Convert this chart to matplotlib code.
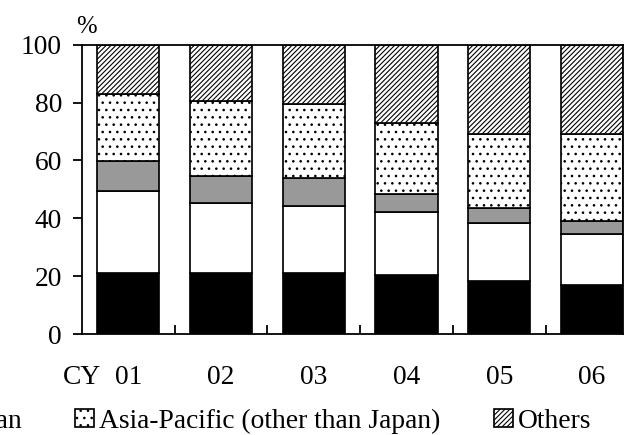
"""
plot.py
stacked share-by-region bars, CY01-06.
"""

import matplotlib
matplotlib.use("Agg")
import matplotlib.pyplot as plt
import matplotlib.patches as mpatches

DPI = 88
W, H = 629, 435


def px(p):
    # pixels -> points at this dpi
    return p * 72 / DPI


plt.rcParams["font.family"] = ["Liberation Serif", "DejaVu Serif"]
plt.rcParams["hatch.linewidth"] = px(1.1)

years = ["01", "02", "03", "04", "05", "06"]
regions = ["North America", "Europe", "Japan",
           "Asia-Pacific (other than Japan)", "Others"]

# % share, bottom to top
black_vals  = [21.0, 21.0, 21.0, 20.4, 18.4, 16.9]
white_vals  = [28.5, 24.4, 23.3, 21.6, 19.8, 17.6]
gray_vals   = [10.3,  9.3,  9.7,  6.3,  5.5,  4.6]
dotted_vals = [23.3, 25.8, 25.4, 24.5, 25.3, 30.2]
others_vals = [16.9, 19.5, 20.6, 27.2, 31.0, 30.7]

series = [black_vals, white_vals, gray_vals, dotted_vals, others_vals]
faces = ["black", "white", "#999999", "white", "white"]
hatches = [None, None, None, "..", "//////"]

fs = px(27.5)
lw = px(1.7)

fig = plt.figure(figsize=(W / DPI, H / DPI), dpi=DPI)
ax = fig.add_axes([82 / W, 1 - 334 / H, (623 - 82) / W, (334 - 44.7) / H])

x = list(range(len(years)))
bottom = [0.0] * len(years)
handles = []
for vals, fc, ht, name in zip(series, faces, hatches, regions):
    ax.bar(x, vals, width=0.67, bottom=bottom, color=fc, edgecolor="black",
           linewidth=lw, hatch=ht, zorder=2)
    bottom = [b + v for b, v in zip(bottom, vals)]
    handles.append(mpatches.Patch(facecolor=fc, edgecolor="black",
                                  linewidth=lw, hatch=ht, label=name))

ax.set_xlim(-0.5, 5.335)
ax.set_ylim(0, 100)
ax.set_yticks([0, 20, 40, 60, 80, 100])
ax.set_xticks(x)
ax.set_xticklabels(years)
ax.set_xticks([i + 0.5 for i in range(len(years) - 1)], minor=True)

for s in ax.spines.values():
    s.set_linewidth(px(1.8))
    s.set_zorder(3)

ax.tick_params(axis="y", direction="out", length=px(9), width=px(1.8),
               pad=px(11), labelsize=fs)
ax.tick_params(axis="x", which="major", length=0, pad=px(31), labelsize=fs)
ax.tick_params(axis="x", which="minor", direction="in", length=px(9),
               width=px(1.8))

fig.text(81.5 / W, 1 - 384 / H, "CY", ha="center", va="baseline", fontsize=fs)
fig.text(86 / W, 1 - 33 / H, "%", ha="center", va="baseline", fontsize=fs * 0.9)

# legend row runs off the left edge, as in the source image
fig.legend(handles=handles, labels=regions, ncol=5, loc="center right",
           bbox_to_anchor=(591 / W, 1 - 421 / H), frameon=False,
           borderpad=0, borderaxespad=0, fontsize=fs,
           handlelength=19 / 27.5, handleheight=18 / 27.5,
           handletextpad=5 / 27.5, columnspacing=53 / 27.5)

fig.savefig("out.png", dpi=DPI)
plt.close(fig)
